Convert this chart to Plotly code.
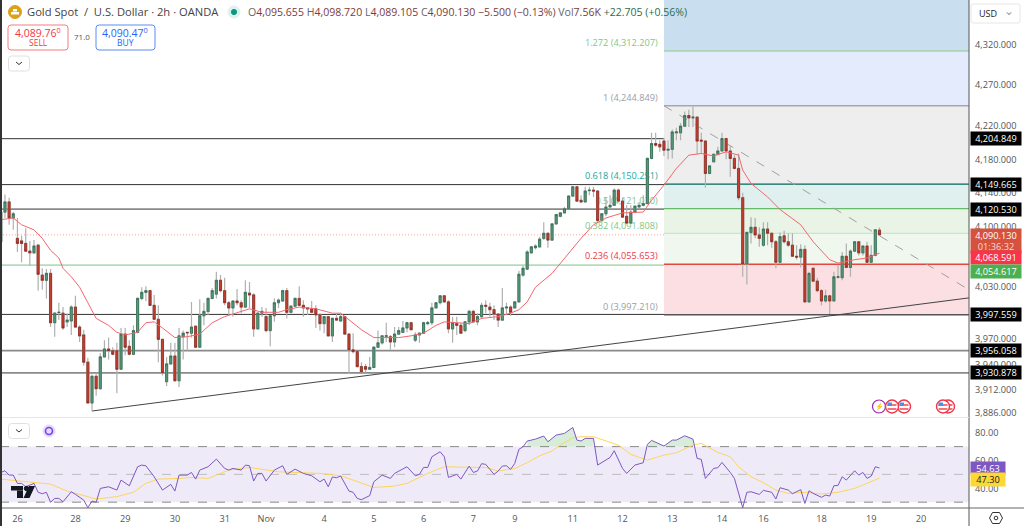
import math
import plotly.graph_objects as go

# ---------- data (prices) ----------
first_bar = -1
opens = [4082,4117,4129,4110,4086,4083,4080,4071,4069,4078,4043,4037,4045,3988,3999.5,3999,3989,3990,4006,3983,
3974,3943,3897,3927,3913,3949,3958,3956,3956,3935,3975,3961,3952,3977,4016,4023,4025,4008,3992,3969,
3921,3941,3950,3922,3972,3977,3976,3984,3960,3996,4001,4016,4021,4037,4025,4011,4005,4013,4011,4006,
4022,4020,3981,3999,3995,3979,3996,4011,4013,4025,4000,4007,4016,4008,4005,4004,4004,3997,3987,3995,
3973,3993,3990,3995,3975,3957,3955,3938,3938,3935,3937,3960,3965,3972.5,3972,3966,3975,3977,3982,3988,
3968,3974,3976,3987,3988,4005,4011,4019,4012,3981,3987,3985,3979,3989,4001,3989,3995,4008,4006,4003,
3998,3991,4005,4006,4005,4012,4043,4050,4069,4075,4076,4086,4092,4084,4103,4112,4116,4121,4136,4147,
4131,4129,4142.5,4143,4142,4107,4115,4123,4125,4143,4130,4112,4104,4117,4123,4125,4127,4181,4199,4198,
4202,4191,4192,4212,4212,4220,4233,4230,4231,4203,4202,4163,4177,4186,4190,4205,4190,4181,4169,4134,
4056,4093,4099,4090,4078,4097,4092,4082,4058,4089,4082,4078,4065,4064,4073,4012,4051,4036,4025,4013,
4019,4013,4040.5,4040,4065,4052,4071,4082,4069,4077,4058,4066,4095.655]
highs = [4122,4138,4134,4117,4110,4089,4098,4083,4084,4079,4051,4050,4050,4000,4011,4006,3999,4008,4019,3985,
3980,3948,3929,3931,3953,3968,3971,3960,3965,3982,3982,3968,3985,4017,4029,4030,4026,4020,4008,3969,
3949,3965,3965,3982,3979,3977,4012,3985,4015,4011,4017,4028,4047,4043,4040,4013,4014,4027,4014,4037,
4035,4022,4000,4006,4005,3997,4016,4016,4026,4028,4008,4017,4030,4014,4006,4013,4008,3999,3995,3995,
3994,3999,3999,3996,3976,3976,3956,3943,3941,3949,3961,3979,3974,3988,3974,3983,3983,3990,3989,3989,
3977,3977,3989,3990,4011,4012,4020,4020,4014,3995,3995,3988,3990,4003,4003,3999,4011,4014,4011,4008,
3999,4028,4011,4008,4013,4048,4054,4072,4077,4079,4088,4105,4093,4104,4115,4117,4123,4137,4148,4148,
4137,4147,4147,4147,4143,4116,4135,4137,4145,4145,4134,4125,4125,4125,4129,4137,4182,4212,4212,4203,
4206,4203,4216,4218,4224,4238,4240,4244,4232,4212,4203,4173,4187,4195,4212,4206,4197,4185,4187,4140,
4093,4111,4110,4099,4105,4105,4093,4084,4093,4095,4092,4092,4078,4079,4078,4047,4052,4040,4027,4026,
4020,4047,4055,4070,4080,4073,4083,4082,4078,4082,4078,4097,4098.72]
lows = [4080,4110,4102,4096,4070,4058,4070,4054,4068,4025,4026,4016,3983,3972,3991,3980,3983,3974,3983,3966,
3939,3897,3888,3905,3912,3948,3946,3951,3908,3935,3951,3951,3951,3976,4014,4013,4008,3991,3943,3928,
3916,3940,3921,3915,3946,3956,3971,3960,3960,3985,3997,4015,4016,4023,4008,3997,3995,4008,3999,4005,
4005,3972,3980,3995,3977,3961,3989,4005,4012,3993,3999,4006,4007,3995,3997,3999,3982,3979,3976,3972,
3966,3990,3989,3975,3930,3953,3937,3931,3931,3935,3936,3960,3963,3966,3957,3960,3974,3976,3977,3979,
3966,3965,3975,3985,3985,4005,4009,4011,3976,3965,3974,3976,3977,3985,3988,3985,3993,3999,3995,3991,
3983,3990,3997,3996,4005,4011,4041,4049,4068,4073,4075,4084,4075,4083,4102,4111,4116,4120,4135,4129,
4128,4129,4137,4135,4105,4105,4112,4122,4125,4129,4111,4103,4103,4116,4122,4124,4127,4180,4195,4189,
4184,4180,4181,4203,4203,4219,4219,4219,4186,4187,4146,4162,4176,4185,4189,4180,4159,4168,4131,4041,
4032,4080,4086,4076,4076,4078,4075,4051,4057,4080,4076,4064,4061,4052,4011,4011,4035,4023,4008,4011,
3998,4013,4039,4037,4051,4041,4070,4066,4066,4057,4057,4065,4089.105]
closes = [4117,4129,4110,4115,4080,4080,4071,4069,4077,4044,4037,4045,3988,3999,4000,3982,3991,4006,3983,3973,
3943,3897,3927,3913,3949,3958,3956,3952,3935,3975,3960,3952,3979,4016,4023,4025,4008,3992,3969,3931,
3941,3950,3922,3973,3976,3976.5,3983,3960,3996,4001,4016,4025,4037,4025,4011,4005,4013,4011,4006,4023,
4020,3981,3999,4001,3979,3996,4011,4014,4025,4000,4007,4016,4008,4005,4004,4000,3997,3987,3995,3973,
3993,3991,3995,3975,3957,3955,3938,3932,3935,3937,3960,3965,3973,3973,3966,3975,3979,3982,3988,3980,
3974,3976,3988,3988,4005,4011,4019,4012,3981,3988,3985,3976,3989,4001,3989,3995,4008,4007,4003,3998,
3991,4005,4006,4000,4012,4044,4051,4070,4076,4077,4085,4092,4084,4103,4114,4116,4121,4136,4147,4130,
4129,4142,4143,4142,4107,4115,4123,4125,4143,4130,4111,4104,4117,4124,4125,4127,4181,4199,4197,4195,
4191,4192,4213,4213,4220,4233,4230,4231,4202,4202,4163,4172,4186,4190,4205,4190,4181,4169,4134,4056,
4093,4099,4090,4086,4097,4092,4082,4058,4088,4082,4078,4065,4064,4073,4012,4045,4036,4025,4013,4019,
4013,4041,4041,4065,4052,4071,4082,4069,4077,4058,4066,4096,4090.13]
bars = list(range(first_bar, first_bar + len(opens)))

ma_bars = [-1,2,4,7,9,11,13,14,16,18,20,22,25,27,29,32,34,36,38,41,44,47,50,53,55,59,62,66,68,71,75,79,81,83,86,89,91,95,98,101,104,106,109,112,115,119,122,124,126,128,132,136,139,142,145,149,154,156,159,162,165,168,171,174,177,178,180,184,187,192,195,199,201,205,208,211]
ma_vals = [4108,4110,4102,4096,4086,4072,4063,4051,4041,4029,4011,3993,3985,3977,3974,3977,3988,3989,3982,3971,3972,3975,3988,3995,3998,4004,4000,4000,4003,4006,4004,3999,3999,3991,3980,3971,3971,3971,3973,3976,3985,3989,3988,3987,3993,3995,3999,4003,4012,4029,4045,4069,4086,4102,4110,4116,4117,4131,4149,4169,4185,4187,4184,4189,4185,4167,4151,4135,4120,4102,4082,4061,4057,4061,4063,4068.591]

rsi_bars = [-1,0,1,2,3,4,5,7,8,9,10,11,12,13,14,16,17,19,20,21,22,23,25,26,27,28,30,32,33,34,36,38,40,41,42,44,45,46,47,49,51,53,54,55,57,58,59,60,61,62,63,65,67,68,70,72,74,76,77,78,79,80,81,83,84,85,86,88,89,91,93,94,97,99,100,101,102,103,105,106,107,109,110,112,113,114,115,116,118,
119,120,121,122,123,124,125,126,128,130,131,133,135,137,138,139,140,142,143,146,147,149,150,152,154,155,156,159,161,162,164,166,167,168,169,171,172,173,175,176,178,179,180,182,183,185,186,187,189,190,192,193,194,195,197,198,199,200,201,202,203,205,206,207,208,209,210,211]
rsi_vals = [51.4,52.6,49.5,49.5,43.5,43.5,41.1,43.5,37.1,36.1,37.1,29.9,32.7,32.7,30.3,37.5,35.6,31.5,26,30.8,29.9,39.9,41.1,39.9,38.7,45.9,41.8,55.5,56.7,56.2,48.3,38.7,42.8,38,49.5,49.5,51.4,46.6,53.1,55.5,61,54.3,53.1,54.3,53.1,56.7,56.2,45.2,50.7,50.7,45.2,53.1,56.2,50,53.8,50.7,49,44.7,46.6,41.1,48.1,47.6,48.8,38,37.1,32.7,31.8,34.7,44.7,49.5,47.1,50.7,55.5,49,50,55,55,62.7,66.3,62.7,47.8,50,46.6,56,51.4,52.4,57.7,57.2,50,
52.4,56,56.2,53.6,57.9,68,69.9,74,75.4,77.6,73.5,78.3,79.5,83.8,74.7,74,75.9,75.9,56.7,62.2,67,54.3,50.7,56.7,58.4,71.6,74.5,70.4,74.7,74.7,77.8,75.4,61.5,60.8,47.1,54.3,54.8,58.6,51.4,47.1,26,37.1,37.5,35.6,38.5,37.1,32.3,40.4,38.7,36.1,39,29.1,38.2,36.3,33.5,35.1,34.4,41.8,42.1,48.3,45.9,52.6,49.5,51.4,47.1,48.8,55.5,54.63]

rsima_bars = [-1,4,11,15,22,27,31,34,37,42,45,49,54,59,66,76,81,84,89,94,97,102,106,110,116,119,123,126,129,132,134,137,139,142,145,148,151,155,159,162,166,168,172,175,177,180,183,186,189,193,197,201,205,208,211]
rsima_vals = [46.6,45.2,43,38,32.3,34,37.1,43.6,46.6,47.1,47.8,47.1,53.1,55,51.9,50.7,49,45.9,40.6,41.6,43.5,50.7,55.5,55.2,55,52.4,54.3,58.4,63.4,66.8,71.1,76.4,77.1,77.1,74,71.1,64.4,60.3,63.9,65.6,71.1,72.3,65.8,62.7,55.5,48.3,44,38.7,36.3,37.1,35.9,37.1,39.9,43.5,47.3]

price_ticks = [4320,4270,4220,4180,4140,4100,4030,3970,3940,3912,3886]
rsi_ticks = [80,60,40]
rsi_bands = [70,50,30]
date_bars = [3,17,29,41,53,63,77,89,101,113,123,137,149,161,173,183,197,209,221]
date_labels = ["26","28","29","30","31","Nov","4","5","6","7","9","11","12","13","14","16","18","19","20"]

fib_start_bar = 159
fib_label_bar = 157.5
fib_levels = [1.272,1,0.618,0.5,0.382,0.236,0]
fib_prices = [4312.207,4244.849,4150.251,4121.030,4091.808,4055.653,3997.210]
fib_text = ["1.272 (4,312.207)","1 (4,244.849)","0.618 (4,150.251)","0.5 (4,121.030)","0.382 (4,091.808)","0.236 (4,055.653)","0 (3,997.210)"]
fib_line = ["#a5d6a7","#a8a8a8","#00695c","#66bb6a","#c8e6c9","#e0483e","#555555"]
fib_font = ["#81c784","#9a9ea6","#26a69a","#81c784","#81c784","#f23645","#9a9ea6"]
fib_fill = ["#c9dff0","#e3ebfd","#eeeeee","#dff0ee","#e9f3e6","#f0f7ee","#fbdfe2"]

level_prices = [4204.849,4149.665,4120.530,3997.559,3956.058,3930.878]
level_text = ["4,204.849","4,149.665","4,120.530","3,997.559","3,956.058","3,930.878"]
level_color = ["#333333","#333333","#8a8a8a","#333333","#8a8a8a","#8a8a8a"]
level_width = [1,1,1.8,1,1.8,1.8]

support_price = 4054.617
last_price = 4090.130
ma_last = 4068.591
rsi_last = 54.63
rsima_last = 47.30
trend_up = {"bars":[21,232.6],"prices":[3888,4016.6]}
trend_down = {"bars":[159,232.6],"prices":[4244.849,4026]}

# ---------- layout geometry ----------
W, H, R, B = 1024, 526, 55, 18
PW, PH = W - R, H - B
FONT = "Open Sans"
def X(px): return px / PW
def Y(py): return (PH - py) / PH
def rrect(x0, y0, x1, y1, r=3):
    a, b, c, d = X(x0), Y(y0), X(x1), Y(y1)
    rx, ry = X(r), r / PH
    return (f"M{a+rx},{b} L{c-rx},{b} Q{c},{b} {c},{b-ry} L{c},{d+ry} Q{c},{d} {c-rx},{d} "
            f"L{a+rx},{d} Q{a},{d} {a},{d+ry} L{a},{b-ry} Q{a},{b} {a+rx},{b} Z")

shapes, annots = [], []
# Fibonacci zones
zone_top = [4376] + fib_prices[:-1]
for p0, p1, col in zip(zone_top, fib_prices, fib_fill):
    shapes.append(dict(type="rect", xref="x", yref="y", x0=fib_start_bar, x1=233, y0=p0, y1=p1,
                       fillcolor=col, line_width=0, layer="below"))
# full-width levels
shapes.append(dict(type="line", xref="paper", yref="y", x0=0, x1=1, y0=support_price, y1=support_price,
                   line=dict(color="#b4ddb6", width=1.8), layer="below"))
for p, c, w in zip(level_prices, level_color, level_width):
    shapes.append(dict(type="line", xref="paper", yref="y", x0=0, x1=1, y0=p, y1=p,
                       line=dict(color=c, width=w), layer="below"))
shapes.append(dict(type="line", xref="paper", yref="y", x0=0, x1=1, y0=last_price, y1=last_price,
                   line=dict(color="#f0a79c", width=1, dash="1px,2px"), layer="below"))
# Fibonacci lines + labels
for p, t, lc, fc in zip(fib_prices, fib_text, fib_line, fib_font):
    shapes.append(dict(type="line", xref="x", yref="y", x0=fib_start_bar, x1=233, y0=p, y1=p,
                       line=dict(color=lc, width=1.4), layer="below"))
    shapes.append(dict(type="line", xref="x", yref="y", x0=fib_label_bar, x1=fib_start_bar, y0=p, y1=p,
                       line=dict(color="rgba(0,0,0,0)", width=0), layer="below",
                       label=dict(text=t, textposition="start", xanchor="right", yanchor="bottom",
                                  padding=1, font=dict(family=FONT, size=9.2, color=fc))))
# trend lines
shapes.append(dict(type="line", xref="x", yref="y", x0=trend_up["bars"][0], x1=trend_up["bars"][1],
                   y0=trend_up["prices"][0], y1=trend_up["prices"][1], line=dict(color="#444444", width=1), layer="below"))
shapes.append(dict(type="line", xref="x", yref="y", x0=trend_down["bars"][0], x1=trend_down["bars"][1],
                   y0=trend_down["prices"][0], y1=trend_down["prices"][1], line=dict(color="#a0a0a0", width=1, dash="dash"), layer="below"))
# RSI band
shapes.append(dict(type="rect", xref="paper", yref="y2", x0=0, x1=1, y0=rsi_bands[2], y1=rsi_bands[0],
                   fillcolor="#efeaf8", line_width=0, layer="below"))
for v, c in zip(rsi_bands, ["#8a8a8a", "#bdbdbd", "#8a8a8a"]):
    shapes.append(dict(type="line", xref="paper", yref="y2", x0=0, x1=1, y0=v, y1=v,
                       line=dict(color=c, width=1, dash="dash"), layer="below"))
# frame lines
def pline(x0, y0, x1, y1, c, w=1):
    shapes.append(dict(type="line", xref="paper", yref="paper", x0=X(x0), x1=X(x1), y0=Y(y0), y1=Y(y1),
                       line=dict(color=c, width=w)))
pline(969, 0, 969, 526, "#555555")
pline(0, 508, 1024, 508, "#666666")
pline(0, 417.5, 969, 417.5, "#e6e6e6")
pline(1, 0, 1, 526, "#333333", 2)

def box(x0, y0, x1, y1, line, fill="#ffffff", r=3, w=1):
    shapes.append(dict(type="path", xref="paper", yref="paper", path=rrect(x0, y0, x1, y1, r),
                       fillcolor=fill, line=dict(color=line, width=w)))
def circle(cx, cy, r, fill, line=None, w=1):
    shapes.append(dict(type="circle", xref="paper", yref="paper", x0=X(cx-r), x1=X(cx+r), y0=Y(cy+r), y1=Y(cy-r),
                       fillcolor=fill, line=dict(color=line or fill, width=w)))
def rect(x0, y0, x1, y1, fill):
    shapes.append(dict(type="rect", xref="paper", yref="paper", x0=X(x0), x1=X(x1), y0=Y(y1), y1=Y(y0),
                       fillcolor=fill, line_width=0))
def txt(x, y, s, size=10, color="#555555", anchor="left", **kw):
    annots.append(dict(xref="paper", yref="paper", x=X(x), y=Y(y), text=s, showarrow=False, xanchor=anchor,
                       yanchor="middle", font=dict(family=FONT, size=size, color=color), **kw))

# header
circle(15, 12, 6.5, "#dca115")
rect(11, 12, 19, 14.5, "#ffffff"); rect(13, 9, 17, 11.5, "#ffffff")
txt(25, 12, "Gold Spot  /  U.S. Dollar · 2h · OANDA", 11.2, "#444444")
circle(234, 12, 6, "#dff1ee"); circle(234, 12, 2.6, "#089981")
d = "#7b3b3b"
def seg(label, val): return f'<span style="color:#666">{label}</span><span style="color:{d}">{val}</span>'
head = (seg("O","4,095.655")+" "+seg("H","4,098.720")+" "+seg("L","4,089.105")+" "+seg("C","4,090.130")+" "
        f'<span style="color:{d}">−5.500 (−0.13%)</span> <span style="color:#666">Vol</span><span style="color:{d}">7.56K</span>'
        ' <span style="color:#2e6b4f">+22.705 (+0.56%)</span>')
txt(246, 12, head, 10.55)
# sell / buy
box(8, 25, 68, 50, "#f77c80")
txt(38, 32, "4,089.76<sup>0</sup>", 10.5, "#f23645", "center")
txt(38, 43, "SELL", 8.5, "#f23645", "center")
txt(82, 37, "71.0", 8, "#555555", "center")
box(96, 25, 155, 50, "#5b8def")
txt(125, 32, "4,090.47<sup>0</sup>", 10.5, "#2962ff", "center")
txt(125, 43, "BUY", 8.5, "#2962ff", "center")
for cy in (63.5, 431):
    box(8.5, cy-7.5, 29.5, cy+7.5, "#e0e0e0")
    shapes.append(dict(type="path", xref="paper", yref="paper",
                       path=f"M{X(16)},{Y(cy-1.5)} L{X(19)},{Y(cy+1)} L{X(22)},{Y(cy-1.5)}",
                       line=dict(color="#333333", width=1)))
# refresh icon
circle(49, 431, 6, "#e4dcf7")
circle(49, 431, 3.5, "#e4dcf7", "#7e3ff2", 1.6)
# TradingView mark
rect(11, 486, 23, 490.5, "#131722"); rect(17, 490.5, 23, 498, "#131722")
circle(26.5, 488.5, 2.2, "#131722")
shapes.append(dict(type="path", xref="paper", yref="paper",
                   path=f"M{X(29)},{Y(486)} L{X(35)},{Y(486)} L{X(29.5)},{Y(498)} L{X(23.5)},{Y(498)} Z",
                   fillcolor="#131722", line_width=0))
# event icons
circle(879, 406.5, 6.5, "#ffffff", "#9c27b0", 1.2)
txt(879, 406.5, "⚡", 7, "#9c27b0", "center")
for cx in (948, 943, 904, 892):
    circle(cx, 406.5, 6.5, "#ffffff", "#f23645", 1.4)
    rect(cx-4.5, 404, cx+4.5, 406, "#f5737c"); rect(cx-4.5, 408, cx+4.5, 410, "#f5737c")
    rect(cx-4.5, 402.5, cx, 406, "#4a8fe8")
# USD box + settings
box(971, 4, 1020, 23, "#e6e6e6", "#ffffff", 2)
txt(977, 13.5, "USD", 9, "#222222")
shapes.append(dict(type="path", xref="paper", yref="paper",
                   path=f"M{X(1007)},{Y(12.5)} L{X(1009)},{Y(14.5)} L{X(1011)},{Y(12.5)}",
                   line=dict(color="#333333", width=0.8)))
hexa = [(989.5,518),(992.5,512.5),(999.5,512.5),(1002.5,518),(999.5,523.5),(992.5,523.5)]
shapes.append(dict(type="path", xref="paper", yref="paper", line=dict(color="#333333", width=1),
                   path="M"+" L".join(f"{X(a)},{Y(b)}" for a, b in hexa)+" Z"))
circle(996, 518, 1.8, "#ffffff", "#333333")

# right-hand price labels
def plabel(price, text, bg, fg="#ffffff", w=50, h=13, yshift=0, ref="y", size=9.2):
    yy = math.log10(price) if ref == "y" else price
    annots.append(dict(xref="paper", yref=ref, x=1, xshift=1, yshift=yshift, y=yy, xanchor="left", yanchor="middle",
                       text=text, showarrow=False, bgcolor=bg, width=w, height=h, align="center", borderpad=0,
                       font=dict(family=FONT, size=size, color=fg)))
for p, t in zip(level_prices, level_text):
    plabel(p, t, "#000000")
plabel(last_price, '4,090.130<br><span style="color:#ffd6cf">01:36:32</span>', "#d5523f", h=24, yshift=-6)
plabel(ma_last, "4,068.591", "#f7344a", yshift=-4.5)
plabel(support_price, "4,054.617", "#4caf50", yshift=-6)
plabel(rsi_last, "54.63", "#7e57c2", w=34, h=12, ref="y2")
plabel(rsima_last, "47.30", "#fdd835", "#131722", w=34, h=13, yshift=-1.5, ref="y2")

# ---------- traces ----------
fig = go.Figure()
wick = "#b0b0b0"
fig.add_trace(go.Candlestick(x=bars, open=opens, high=highs, low=lows, close=closes, whiskerwidth=0, hoverinfo="skip",
    increasing=dict(line=dict(color=wick, width=1.2), fillcolor="rgba(0,0,0,0)"),
    decreasing=dict(line=dict(color=wick, width=1.2), fillcolor="rgba(0,0,0,0)"), showlegend=False))
fig.add_trace(go.Candlestick(x=bars, open=opens, close=closes, whiskerwidth=0, hoverinfo="skip",
    high=[max(o, c) for o, c in zip(opens, closes)], low=[min(o, c) for o, c in zip(opens, closes)],
    increasing=dict(line=dict(color="#2f6f53", width=0.8), fillcolor="#5b9c7b"),
    decreasing=dict(line=dict(color="#8f2a20", width=0.8), fillcolor="#c8412f"), showlegend=False))
fig.add_trace(go.Scatter(x=ma_bars, y=ma_vals, mode="lines", line=dict(color="#f4666e", width=1), hoverinfo="skip", showlegend=False))

# RSI overbought fill
run = []
for b, v in list(zip(rsi_bars, rsi_vals)) + [(None, 0)]:
    if v > rsi_bands[0]:
        run.append((b, v))
    elif run:
        xs = [r[0] for r in run]; ys = [r[1] for r in run]
        fig.add_trace(go.Scatter(x=[xs[0]] + xs + [xs[-1]], y=[rsi_bands[0]] + ys + [rsi_bands[0]], yaxis="y2", mode="none",
                                 fill="toself", fillcolor="rgba(76,175,80,0.22)", hoverinfo="skip", showlegend=False))
        run = []
fig.add_trace(go.Scatter(x=rsima_bars, y=rsima_vals, yaxis="y2", mode="lines", line=dict(color="#fdd65c", width=1), hoverinfo="skip", showlegend=False))
fig.add_trace(go.Scatter(x=rsi_bars, y=rsi_vals, yaxis="y2", mode="lines", line=dict(color="#7e57c2", width=1), hoverinfo="skip", showlegend=False))

tickf = dict(family=FONT, size=9.2, color="#555555")
fig.update_layout(
    width=W, height=H, margin=dict(l=0, r=R, t=0, b=B, pad=0), autosize=False,
    paper_bgcolor="#ffffff", plot_bgcolor="#ffffff", showlegend=False, hovermode=False,
    shapes=shapes, annotations=annots,
    xaxis=dict(domain=[0, 1], range=[-1.2, 232.6], anchor="y2", rangeslider=dict(visible=False), showgrid=False,
               zeroline=False, showline=False, tickmode="array", tickvals=date_bars, ticktext=date_labels,
               tickfont=tickf, ticks="", ticklabelstandoff=4),
    yaxis=dict(domain=[(PH-417)/PH, 1], type="log", range=[math.log10(3881.3), math.log10(4376.0)], side="right",
               anchor="x", showgrid=False, zeroline=False, showline=False, tickmode="array", tickvals=price_ticks,
               ticktext=[f"{t:,.3f}" for t in price_ticks], tickfont=tickf, ticks="", ticklabelstandoff=5),
    yaxis2=dict(domain=[0, (PH-418)/PH], range=[25.8, 90.6], side="right", anchor="x", showgrid=False, zeroline=False,
                showline=False, tickmode="array", tickvals=rsi_ticks, ticktext=[f"{t:.2f}" for t in rsi_ticks],
                tickfont=tickf, ticks="", ticklabelstandoff=5),
)
fig.write_html("out.html", config=dict(displayModeBar=False),
               post_script="document.body.style.margin='0';document.body.style.overflow='hidden';")
